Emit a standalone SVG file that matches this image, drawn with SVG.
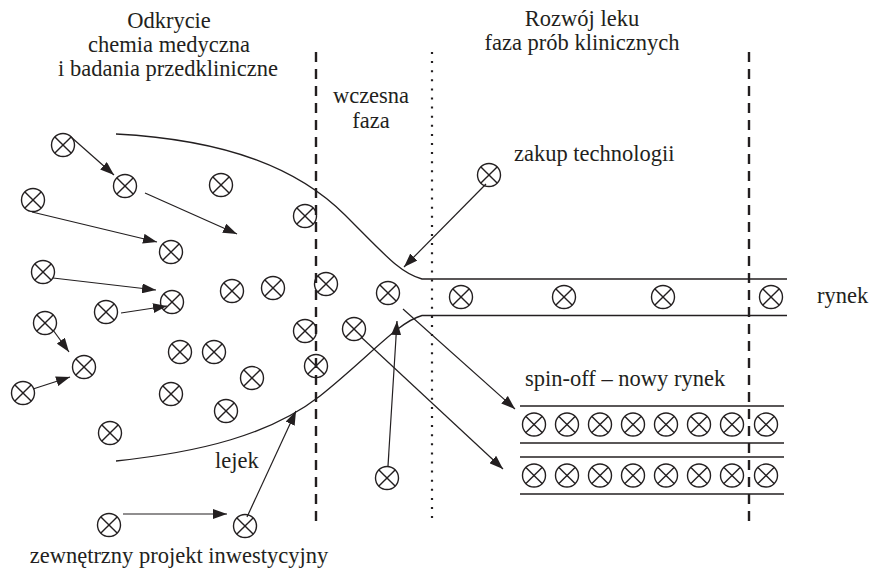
<svg xmlns="http://www.w3.org/2000/svg" xmlns:xlink="http://www.w3.org/1999/xlink" width="871" height="572" viewBox="0 0 871 572">
  <style>
    text { font-family: "Liberation Serif", Tinos, "Times New Roman", "DejaVu Serif", "Noto Serif", serif; font-size: 22.5px; fill: #231f20; }
    .mid { text-anchor: middle; }
    .ox circle, .ox line { fill: none; stroke: #231f20; stroke-width: 1.4; }
    .arrow { fill: none; stroke: #231f20; stroke-width: 1.2; marker-end: url(#head); }
    .curve { fill: none; stroke: #231f20; stroke-width: 1.3; }
    .rail { fill: none; stroke: #231f20; stroke-width: 1.5; }
    .dash { stroke: #231f20; stroke-width: 2.4; stroke-dasharray: 10 7; }
    .dots { stroke: #231f20; stroke-width: 2.2; stroke-dasharray: 2 7.1; }
  </style>
  <defs>
    <!-- crossed-circle project symbol -->
    <g id="ox" class="ox">
      <circle r="11.5"/>
      <line x1="-8.1" y1="-8.1" x2="8.1" y2="8.1"/>
      <line x1="-8.1" y1="8.1" x2="8.1" y2="-8.1"/>
    </g>
    <marker id="head" viewBox="0 0 14 10" refX="14" refY="5" markerWidth="14" markerHeight="10" markerUnits="userSpaceOnUse" orient="auto">
      <path d="M0,0 L14,5 L0,10 z" fill="#231f20"/>
    </marker>
  </defs>

  <!-- phase boundaries -->
  <g id="boundaries">
    <line class="dash" x1="316" y1="52" x2="316" y2="522"/>
    <line class="dots" x1="432" y1="52" x2="432" y2="522"/>
    <line class="dash" x1="749" y1="52" x2="749" y2="522"/>
  </g>

  <!-- headings and labels -->
  <g id="labels" font-family="Liberation Serif, serif">
    <text class="mid" x="169" y="28">Odkrycie</text>
    <text class="mid" x="169" y="52">chemia medyczna</text>
    <text class="mid" x="168" y="76">i badania przedkliniczne</text>
    <text class="mid" x="371" y="103">wczesna</text>
    <text class="mid" x="371" y="128">faza</text>
    <text class="mid" x="582" y="26">Rozwój leku</text>
    <text class="mid" x="582" y="50">faza prób klinicznych</text>
    <text x="514" y="161">zakup technologii</text>
    <text x="817" y="303">rynek</text>
    <text x="525" y="386">spin-off – nowy rynek</text>
    <text x="215" y="468">lejek</text>
    <text class="mid" x="179" y="563">zewnętrzny projekt inwestycyjny</text>
  </g>

  <!-- funnel walls, market channel and spin-off channels -->
  <g id="funnel">
    <path class="curve" d="M116,134 C230,140 300,170 345,215 C385,255 400,273 422,279 H787"/>
    <path class="curve" d="M116,461 C200,452 270,435 320,396 C370,356 398,322 422,315.5 H787"/>
    <line class="rail" x1="520" y1="406" x2="784" y2="406"/>
    <line class="rail" x1="520" y1="443" x2="784" y2="443"/>
    <line class="rail" x1="520" y1="457" x2="784" y2="457"/>
    <line class="rail" x1="520" y1="494" x2="784" y2="494"/>
  </g>

  <!-- connectors -->
  <g id="connectors">
    <line class="arrow" x1="71" y1="137" x2="114" y2="175"/>
    <line class="arrow" x1="145" y1="193" x2="237" y2="234"/>
    <line class="arrow" x1="32" y1="212" x2="157" y2="242"/>
    <line class="arrow" x1="53" y1="278" x2="156" y2="290"/>
    <line class="arrow" x1="121" y1="313" x2="167" y2="306"/>
    <line class="arrow" x1="53" y1="330" x2="69" y2="352"/>
    <line class="arrow" x1="33" y1="389" x2="70" y2="377"/>
    <line class="arrow" x1="123" y1="514" x2="227" y2="514"/>
    <line class="arrow" x1="247" y1="517" x2="296" y2="411"/>
    <line class="arrow" x1="486" y1="184" x2="404" y2="267"/>
    <line class="arrow" x1="388" y1="466" x2="397" y2="321"/>
    <line class="arrow" x1="361" y1="337" x2="503" y2="469"/>
    <line class="arrow" x1="403" y1="309" x2="515" y2="409"/>
  </g>

  <!-- projects: discovery area -->
  <g id="n1"><use xlink:href="#ox" x="63" y="145"/></g>
  <g id="n2"><use xlink:href="#ox" x="125" y="186"/></g>
  <g id="n3"><use xlink:href="#ox" x="33" y="200"/></g>
  <g id="n4"><use xlink:href="#ox" x="171" y="252"/></g>
  <g id="n5"><use xlink:href="#ox" x="221" y="185"/></g>
  <g id="n6"><use xlink:href="#ox" x="305" y="216"/></g>
  <g id="n7"><use xlink:href="#ox" x="43" y="272"/></g>
  <g id="n8"><use xlink:href="#ox" x="172" y="302"/></g>
  <g id="n9"><use xlink:href="#ox" x="106" y="312"/></g>
  <g id="n10"><use xlink:href="#ox" x="45" y="323"/></g>
  <g id="n11"><use xlink:href="#ox" x="84" y="367"/></g>
  <g id="n12"><use xlink:href="#ox" x="23" y="393"/></g>
  <g id="n13"><use xlink:href="#ox" x="232" y="291"/></g>
  <g id="n14"><use xlink:href="#ox" x="273" y="288"/></g>
  <g id="n15"><use xlink:href="#ox" x="326" y="284"/></g>
  <g id="n16"><use xlink:href="#ox" x="388" y="293"/></g>
  <g id="n17"><use xlink:href="#ox" x="305" y="331"/></g>
  <g id="n18"><use xlink:href="#ox" x="354" y="329"/></g>
  <g id="n19"><use xlink:href="#ox" x="316" y="366"/></g>
  <g id="n20"><use xlink:href="#ox" x="180" y="352"/></g>
  <g id="n21"><use xlink:href="#ox" x="214" y="352"/></g>
  <g id="n22"><use xlink:href="#ox" x="252" y="378"/></g>
  <g id="n23"><use xlink:href="#ox" x="171" y="394"/></g>
  <g id="n24"><use xlink:href="#ox" x="226" y="411"/></g>
  <g id="n25"><use xlink:href="#ox" x="110" y="433"/></g>
  <g id="n26"><use xlink:href="#ox" x="109" y="525"/></g>
  <g id="n27"><use xlink:href="#ox" x="245" y="526"/></g>
  <g id="n28"><use xlink:href="#ox" x="387" y="478"/></g>
  <g id="n29"><use xlink:href="#ox" x="489" y="175"/></g>

  <!-- projects: market channel -->
  <g id="m1"><use xlink:href="#ox" x="461" y="297"/></g>
  <g id="m2"><use xlink:href="#ox" x="564" y="297"/></g>
  <g id="m3"><use xlink:href="#ox" x="663" y="297"/></g>
  <g id="m4"><use xlink:href="#ox" x="771" y="297"/></g>

  <!-- projects: spin-off channels -->
  <g id="s1"><use xlink:href="#ox" x="534" y="424.5"/></g>
  <g id="s2"><use xlink:href="#ox" x="567" y="424.5"/></g>
  <g id="s3"><use xlink:href="#ox" x="600" y="424.5"/></g>
  <g id="s4"><use xlink:href="#ox" x="633" y="424.5"/></g>
  <g id="s5"><use xlink:href="#ox" x="666" y="424.5"/></g>
  <g id="s6"><use xlink:href="#ox" x="699" y="424.5"/></g>
  <g id="s7"><use xlink:href="#ox" x="732" y="424.5"/></g>
  <g id="s8"><use xlink:href="#ox" x="766" y="424.5"/></g>
  <g id="t1"><use xlink:href="#ox" x="534" y="475.5"/></g>
  <g id="t2"><use xlink:href="#ox" x="567" y="475.5"/></g>
  <g id="t3"><use xlink:href="#ox" x="600" y="475.5"/></g>
  <g id="t4"><use xlink:href="#ox" x="633" y="475.5"/></g>
  <g id="t5"><use xlink:href="#ox" x="666" y="475.5"/></g>
  <g id="t6"><use xlink:href="#ox" x="699" y="475.5"/></g>
  <g id="t7"><use xlink:href="#ox" x="732" y="475.5"/></g>
  <g id="t8"><use xlink:href="#ox" x="766" y="475.5"/></g>
</svg>
